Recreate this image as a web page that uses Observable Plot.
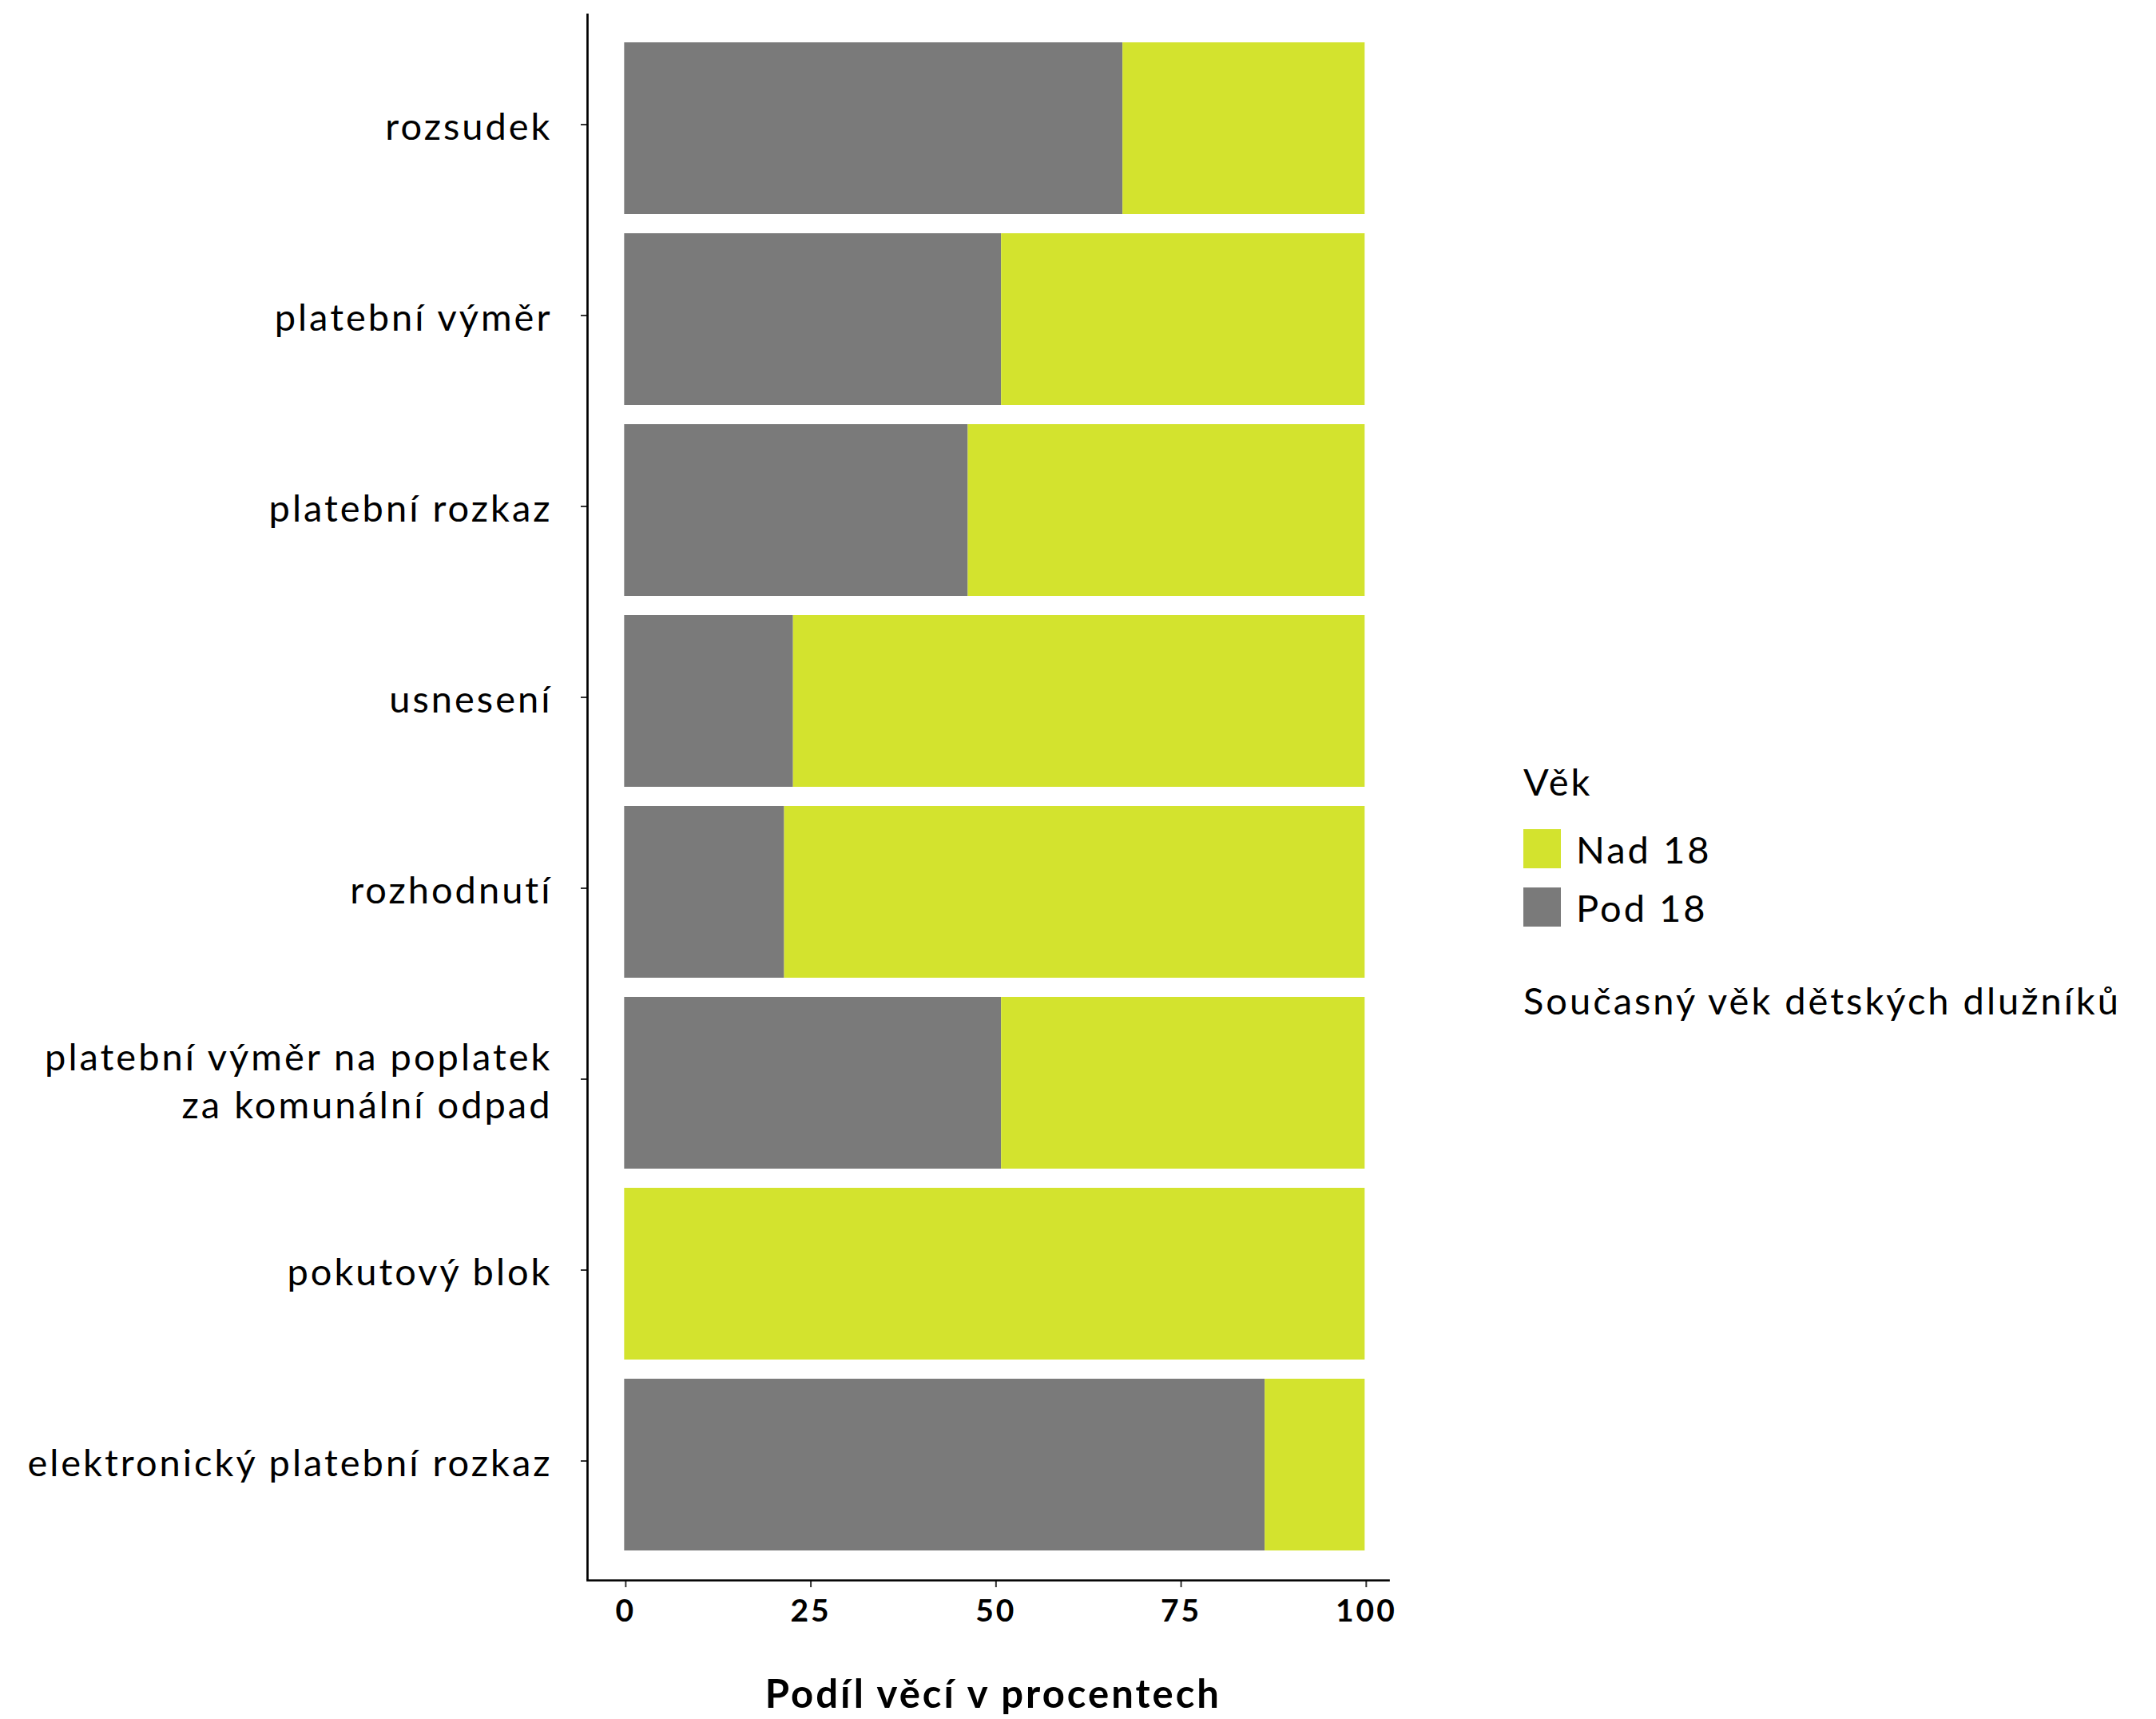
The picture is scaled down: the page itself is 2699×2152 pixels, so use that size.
<!DOCTYPE html>
<html>
<head>
<meta charset="utf-8">
<script src="https://cdn.jsdelivr.net/npm/d3@7"></script>
<script src="https://cdn.jsdelivr.net/npm/@observablehq/plot@0.6"></script>
<style>
  html, body { margin: 0; padding: 0; background: #ffffff; }
  #wrap { position: relative; width: 2699px; height: 2152px; font-family: Lato, "Noto Sans", sans-serif; color: #000; letter-spacing: 3px; }
  #chart { position: absolute; left: 0; top: 0; }
  #legend { position: absolute; left: 1907px; top: 948px; }
  .lg-title { font-size: 47px; line-height: 60px; margin-bottom: 18px; }
  .lg-item { display: flex; align-items: center; height: 73px; font-size: 47px; }
  .lg-key { width: 47px; height: 49px; margin-right: 19px; }
  .lg-caption { font-size: 47px; margin-top: 52px; }
</style>
</head>
<body>
<div id="wrap">
  <div id="chart"></div>
  <div id="legend"></div>
</div>
<script>
const categories = [
  "rozsudek",
  "platební výměr",
  "platební rozkaz",
  "usnesení",
  "rozhodnutí",
  "platební výměr na poplatek\nza komunální odpad",
  "pokutový blok",
  "elektronický platební rozkaz"
];
const pod18 = [67.3, 50.9, 46.4, 22.8, 21.6, 50.9, 0, 86.5];
const nad18 = [32.7, 49.1, 53.6, 77.2, 78.4, 49.1, 100, 13.5];
const groups = ["Pod 18", "Nad 18"];
const groupColors = ["#7a7a7a", "#d3e32e"];
const xTicks = [0, 25, 50, 75, 100];
const xLabel = "Podíl věcí v procentech";
const legendTitle = "Věk";
const legendOrder = ["Nad 18", "Pod 18"];
const legendCaption = "Současný věk dětských dlužníků";

const rows = [];
categories.forEach((c, i) => {
  rows.push({cat: c, group: groups[0], value: pod18[i]});
  rows.push({cat: c, group: groups[1], value: nad18[i]});
});

const chart = Plot.plot({
  width: 1760,
  height: 2152,
  marginTop: 17,
  marginBottom: 174,
  marginLeft: 735,
  marginRight: 22,
  style: {fontFamily: "Lato, 'Noto Sans', sans-serif", background: "#ffffff", color: "#000", letterSpacing: "3px"},
  x: {domain: [-5, 103.2]},
  y: {domain: categories, paddingInner: 0.1, paddingOuter: 0.15},
  color: {domain: groups, range: groupColors},
  marks: [
    Plot.barX(rows, {x: "value", y: "cat", fill: "group"}),
    Plot.axisX({ticks: xTicks, tickSize: 9, tickPadding: 15, fontSize: 39, fontWeight: "bold", label: null, stroke: "#333", strokeWidth: 2, fill: "#000", dx: 1.5}),
    Plot.axisY({tickSize: 8, tickPadding: 36, fontSize: 47, label: null, stroke: "#333", strokeWidth: 2, fill: "#000", lineHeight: 1.26, dy: -5}),
    Plot.ruleX([-5], {stroke: "#000", strokeWidth: 2.7}),
    Plot.frame({anchor: "bottom", stroke: "#000", strokeWidth: 2.7}),
    Plot.text([xLabel], {x: 50, frameAnchor: "bottom", dy: 159, lineAnchor: "bottom", fontSize: 49, fontWeight: "bold", fill: "#000", dx: -2})
  ]
});
document.getElementById("chart").appendChild(chart);

const lg = document.getElementById("legend");
const t = document.createElement("div");
t.className = "lg-title";
t.textContent = legendTitle;
lg.appendChild(t);
legendOrder.forEach(g => {
  const item = document.createElement("div");
  item.className = "lg-item";
  const key = document.createElement("div");
  key.className = "lg-key";
  key.style.background = groupColors[groups.indexOf(g)];
  const lab = document.createElement("span");
  lab.textContent = g;
  item.appendChild(key);
  item.appendChild(lab);
  lg.appendChild(item);
});
const cap = document.createElement("div");
cap.className = "lg-caption";
cap.textContent = legendCaption;
lg.appendChild(cap);
</script>
</body>
</html>
